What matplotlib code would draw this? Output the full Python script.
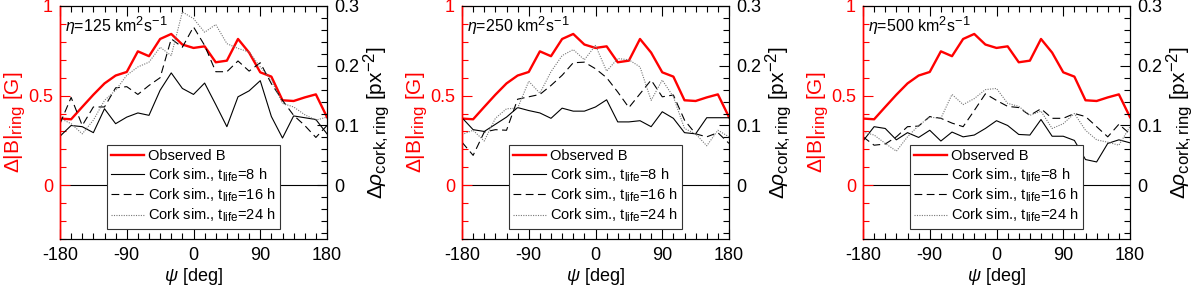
import matplotlib
matplotlib.use("Agg")
import matplotlib.pyplot as plt
from matplotlib.ticker import MultipleLocator
try:
    import matplotlib._mathtext as _mt
    _mt.SHRINK_FACTOR = 0.8
except Exception:
    pass

plt.rcParams['font.family'] = ['Liberation Sans', 'DejaVu Sans']
plt.rcParams['mathtext.fontset'] = 'custom'
plt.rcParams['mathtext.rm'] = 'Liberation Sans'
plt.rcParams['mathtext.it'] = 'Liberation Sans:italic'
plt.rcParams['mathtext.bf'] = 'Liberation Sans:bold'
plt.rcParams['axes.unicode_minus'] = False

# ---------------- data ----------------
psi = [-180, -165, -150, -135, -120, -105, -90, -75, -60, -45, -30, -15, 0,
       15, 30, 45, 60, 75, 90, 105, 120, 135, 150, 165, 180]

observed_B = [0.372, 0.368, 0.437, 0.505, 0.568, 0.612, 0.632, 0.747, 0.720, 0.816,
              0.844, 0.785, 0.766, 0.775, 0.686, 0.695, 0.816, 0.740, 0.630, 0.606,
              0.474, 0.470, 0.490, 0.507, 0.380]

eta_labels = ["125", "250", "500"]

cork_8h = [
    [0.082, 0.100, 0.098, 0.088, 0.128, 0.103, 0.114, 0.121, 0.117, 0.159,
     0.188, 0.162, 0.152, 0.171, 0.135, 0.098, 0.148, 0.158, 0.175, 0.115,
     0.079, 0.116, 0.113, 0.110, 0.086],
    [0.113, 0.093, 0.090, 0.102, 0.114, 0.130, 0.125, 0.121, 0.112, 0.129,
     0.124, 0.124, 0.131, 0.143, 0.106, 0.106, 0.108, 0.098, 0.123, 0.112,
     0.088, 0.086, 0.113, 0.113, 0.113],
    [0.074, 0.098, 0.095, 0.076, 0.088, 0.080, 0.092, 0.074, 0.089, 0.081,
     0.084, 0.095, 0.108, 0.100, 0.085, 0.084, 0.110, 0.082, 0.082, 0.075,
     0.043, 0.039, 0.070, 0.076, 0.071],
]

cork_16h = [
    [0.103, 0.147, 0.100, 0.131, 0.131, 0.163, 0.165, 0.152, 0.167, 0.180,
     0.245, 0.231, 0.265, 0.234, 0.190, 0.190, 0.208, 0.191, 0.205, 0.170,
     0.142, 0.117, 0.100, 0.080, 0.100],
    [0.072, 0.050, 0.089, 0.093, 0.092, 0.144, 0.148, 0.152, 0.167, 0.184,
     0.205, 0.206, 0.195, 0.180, 0.156, 0.130, 0.153, 0.176, 0.148, 0.151,
     0.109, 0.086, 0.081, 0.088, 0.070],
    [0.081, 0.067, 0.069, 0.081, 0.098, 0.099, 0.115, 0.112, 0.104, 0.098,
     0.125, 0.153, 0.142, 0.132, 0.130, 0.117, 0.128, 0.112, 0.112, 0.120,
     0.115, 0.098, 0.081, 0.102, 0.086],
]

cork_24h = [
    [0.112, 0.103, 0.086, 0.109, 0.142, 0.159, 0.184, 0.198, 0.206, 0.231,
     0.217, 0.290, 0.279, 0.256, 0.269, 0.237, 0.229, 0.223, 0.198, 0.176,
     0.137, 0.131, 0.118, 0.109, 0.114],
    [0.085, 0.092, 0.074, 0.112, 0.128, 0.129, 0.174, 0.154, 0.190, 0.217,
     0.227, 0.210, 0.234, 0.191, 0.212, 0.210, 0.198, 0.142, 0.176, 0.148,
     0.095, 0.086, 0.066, 0.092, 0.081],
    [0.089, 0.084, 0.070, 0.057, 0.081, 0.100, 0.114, 0.112, 0.152, 0.135,
     0.145, 0.160, 0.162, 0.137, 0.132, 0.117, 0.124, 0.095, 0.103, 0.120,
     0.092, 0.076, 0.072, 0.067, 0.098],
]

x_ticks = [-180, -90, 0, 90, 180]
left_ticks = [0, 0.5, 1]
left_ticklabels = ["0", "0.5", "1"]
right_ticks = [0, 0.1, 0.2, 0.3]
right_ticklabels = ["0", "0.1", "0.2", "0.3"]
legend_labels = ["Observed B",
                 r"Cork sim., t$_{\rm life}$=8 h",
                 r"Cork sim., t$_{\rm life}$=16 h",
                 r"Cork sim., t$_{\rm life}$=24 h"]

# ---------------- figure ----------------
fig = plt.figure(figsize=(12, 2.87), dpi=100)
lefts = [60, 462, 863]
ax_w = 267 / 1200
ax_b = (287 - 239) / 287
ax_h = 233 / 287

red = "#ff0000"
for i in range(3):
    ax = fig.add_axes([lefts[i] / 1200, ax_b, ax_w, ax_h])
    ax2 = ax.twinx()

    l0, = ax.plot(psi, observed_B, color=red, lw=1.7, zorder=3)
    ax.axhline(0, color="black", lw=0.8, zorder=1)
    ax.set_xlim(-180, 180)
    ax.set_ylim(-0.3, 1.0)
    ax.set_xticks(x_ticks)
    ax.set_xticklabels([str(t) for t in x_ticks])
    ax.xaxis.set_minor_locator(MultipleLocator(15))
    ax.set_yticks(left_ticks)
    ax.set_yticklabels(left_ticklabels)
    ax.yaxis.set_minor_locator(MultipleLocator(0.1))
    ax.tick_params(axis="x", which="both", direction="in", top=True, bottom=True,
                   labelsize=13, colors="black", pad=6)
    ax.tick_params(axis="x", which="major", length=7, width=0.8)
    ax.tick_params(axis="x", which="minor", length=4, width=0.8)
    ax.tick_params(axis="y", which="both", direction="in", left=True, right=False,
                   labelsize=13, colors=red, width=0.8, pad=5)
    ax.tick_params(axis="y", which="major", length=7)
    ax.tick_params(axis="y", which="minor", length=4)
    ax.spines["left"].set_color(red)
    ax.spines["left"].set_linewidth(1.0)
    for s in ["top", "bottom", "right"]:
        ax.spines[s].set_color("black")
        ax.spines[s].set_linewidth(0.8)
    ax.set_xlabel(r"$\psi$ [deg]", fontsize=13, labelpad=1)
    ax.set_ylabel(r"$\Delta$|B|$_{\rm ring}$ [G]", fontsize=15, color=red, labelpad=0)
    ax.text(0.02, 0.965, r"$\eta$=" + eta_labels[i] + r" km$^2$s$^{-1}$",
            transform=ax.transAxes, ha="left", va="top", fontsize=11.5)

    l1, = ax2.plot(psi, cork_8h[i], color="black", lw=0.8)
    l2, = ax2.plot(psi, cork_16h[i], color="black", lw=0.8, ls=(0, (7, 4)))
    l3, = ax2.plot(psi, cork_24h[i], color="#777777", lw=0.8, ls=(0, (1, 1.2)))
    ax2.set_ylim(-0.09, 0.3)
    ax2.set_yticks(right_ticks)
    ax2.set_yticklabels(right_ticklabels)
    ax2.yaxis.set_minor_locator(MultipleLocator(0.02))
    ax2.tick_params(axis="y", which="both", direction="in", labelsize=13, width=0.8,
                    colors="black", pad=5)
    ax2.tick_params(axis="y", which="major", length=7)
    ax2.tick_params(axis="y", which="minor", length=4)
    ax2.spines["left"].set_color(red)
    ax2.spines["left"].set_linewidth(1.0)
    ax2.set_ylabel(r"$\Delta\rho_{\rm cork,ring}$ [px$^{-2}$]", fontsize=15,
                   rotation=90, labelpad=2)

    leg = ax2.legend([l0, l1, l2, l3], legend_labels, loc="lower center",
                     bbox_to_anchor=(0.5, 0.045), fontsize=10.5, frameon=True,
                     fancybox=False, framealpha=1, edgecolor="#333333",
                     handlelength=2.2, handletextpad=0.3, borderpad=0.3,
                     labelspacing=0.2, borderaxespad=0)
    leg.get_frame().set_linewidth(0.8)

fig.savefig("out.png", dpi=100)
